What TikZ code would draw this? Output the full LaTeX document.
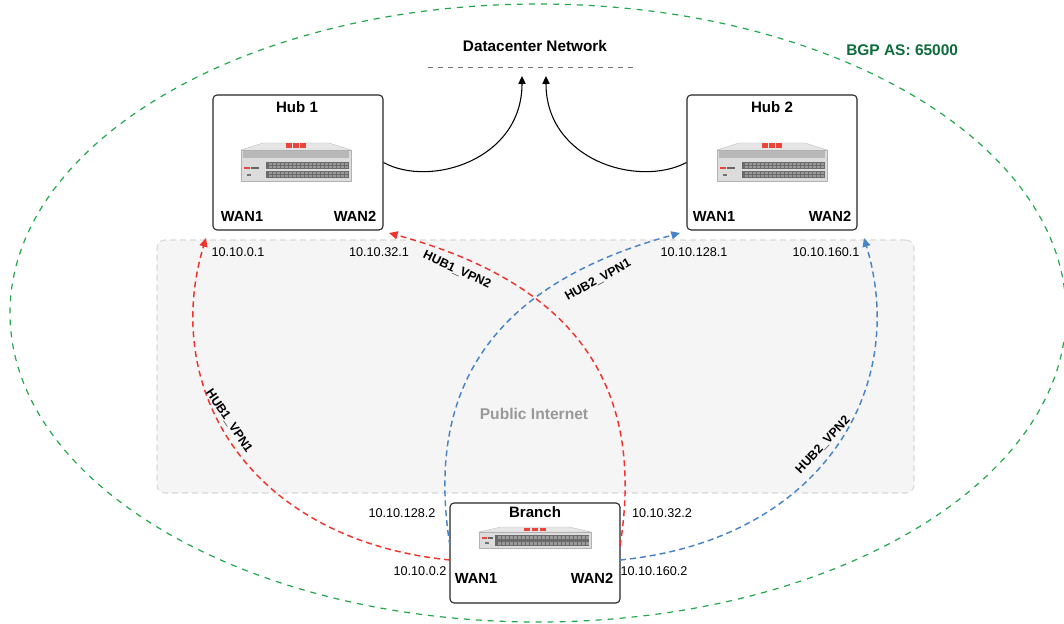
\documentclass[tikz,border=0pt]{standalone}
\usepackage{fontspec}
\setmainfont{Liberation Sans}
\usetikzlibrary{arrows.meta}

\definecolor{vpnred}{HTML}{F0342C}
\definecolor{vpnblue}{HTML}{4A84C8}
\definecolor{asgreen}{HTML}{22A84A}
\definecolor{asdark}{HTML}{0E6B3A}
\definecolor{netfill}{HTML}{F5F5F5}
\definecolor{netedge}{HTML}{D8D8D8}
\definecolor{chassis}{HTML}{DCDCDC}
\definecolor{lidgray}{HTML}{E6E6E6}
\definecolor{meshgray}{HTML}{B8B8B8}
\definecolor{portdark}{HTML}{6A6A6A}
\definecolor{portlight}{HTML}{9A9A9A}
\definecolor{logored}{HTML}{E8453C}

\tikzset{
  devbox/.style={draw=black!85, line width=0.8pt, rounded corners=3pt, fill=white,
                 minimum width=127.5pt, inner sep=0pt},
  title/.style={font=\bfseries\fontsize{11.3}{13}\selectfont, inner sep=0pt},
  port/.style={font=\bfseries\fontsize{11}{13}\selectfont, inner sep=0pt},
  ipaddr/.style={font=\fontsize{9.5}{11}\selectfont, inner sep=0pt},
  tunnel/.style={font=\bfseries\fontsize{9.3}{11}\selectfont, inner sep=0pt},
  uplink/.style={draw=black, line width=0.8pt, -{Triangle[length=6pt,width=5.5pt]}},
  vpn/.style={line width=1.1pt, dash pattern=on 4.5pt off 3pt,
              -{Triangle[length=6.5pt,width=6pt]}},
  redvpn/.style={vpn, draw=vpnred, color=vpnred},
  bluevpn/.style={vpn, draw=vpnblue, color=vpnblue},
  % 2U firewall appliance, drawn around its centre
  bigunit/.pic={
    \fill[lidgray, draw=black!25, line width=0.3pt]
      (-55,-12) -- (-33,-19) -- (33,-19) -- (55,-12) -- cycle;
    \fill[chassis, draw=black!30, line width=0.3pt] (-55,-12) rectangle (55,19);
    \fill[meshgray] (-53,-11) rectangle (53,-4);
    \foreach \r in {0,9}{
      \fill[portdark] (-30,\r) rectangle (53,\r+7);
      \foreach \c in {-27,-23,...,51}{
        \fill[portlight] (\c,\r+1) rectangle (\c+2.6,\r+3);
        \fill[portlight] (\c,\r+4) rectangle (\c+2.6,\r+6);
      }
    }
    \fill[logored] (-10,-18.5) rectangle (-4,-14);
    \fill[logored] (-3,-18.5) rectangle (3,-14);
    \fill[logored] (4,-18.5) rectangle (10,-14);
    \fill[logored] (-52,5) rectangle (-46,7);
    \fill[black!60] (-45,5) rectangle (-37,7);
    \fill[black!55] (-49,12) rectangle (-45,14);
  },
  % 1U firewall appliance, drawn around its centre
  smallunit/.pic={
    \fill[lidgray, draw=black!25, line width=0.3pt]
      (-56,-6) -- (-34,-11) -- (34,-11) -- (56,-6) -- cycle;
    \fill[chassis, draw=black!30, line width=0.3pt] (-56,-6) rectangle (56,10);
    \fill[portdark] (-40,-3) rectangle (54,8);
    \foreach \c in {-37,-33,...,52}{
      \fill[portlight] (\c,-2) rectangle (\c+2.6,0.5);
      \fill[portlight] (\c,4) rectangle (\c+2.6,6.5);
    }
    \fill[logored] (-11,-10.5) rectangle (-5,-7);
    \fill[logored] (-3,-10.5) rectangle (3,-7);
    \fill[logored] (5,-10.5) rectangle (11,-7);
    \fill[logored] (-53,-1) rectangle (-48,1);
    \fill[black!60] (-47,-1) rectangle (-42,1);
    \fill[black!55] (-50,4) rectangle (-46,6);
  }
}

\begin{document}
\begin{tikzpicture}[x=0.75pt, y=-0.75pt]
\useasboundingbox (0,0) rectangle (1064,624);
\clip (0,0) rectangle (1064,624);

% public internet area
\node[draw=netedge, fill=netfill, line width=0.8pt, dash pattern=on 4.5pt off 3pt,
      rounded corners=6pt, minimum width=567.75pt, minimum height=189.75pt, inner sep=0pt]
      (inet) at (535.5,366.5) {};
\node[font=\bfseries\fontsize{11.7}{14}\selectfont, text=black!40, inner sep=0pt]
      (inetlabel) at (534,414) {Public Internet};

% BGP autonomous system boundary
\draw[asgreen, line width=0.9pt, dash pattern=on 4.5pt off 4.5pt]
      (538,313) ellipse [x radius=396pt, y radius=231.75pt];
\node[font=\bfseries\fontsize{11.6}{14}\selectfont, text=asdark, anchor=west, inner sep=0pt]
      (bgp) at (846,50) {BGP AS: 65000};

% datacenter network
\node[font=\bfseries\fontsize{11.5}{14}\selectfont, inner sep=0pt] (dc) at (535,46) {Datacenter Network};
\draw[black!55, line width=0.7pt, dash pattern=on 4pt off 3.5pt] (428,67) -- (636,67);
\coordinate (dc1) at (522,76);
\coordinate (dc2) at (546,76);

% hubs and branch
\node[devbox, minimum height=101.25pt] (hub1) at (298,162.5) {};
\node[devbox, minimum height=101.25pt] (hub2) at (772,162.5) {};
\node[devbox, minimum height=75pt] (branch) at (535,553) {};

\node[title] (hub1t) at (297,107) {Hub 1};
\node[title] (hub2t) at (772,107) {Hub 2};
\node[title] (brt) at (535,512) {Branch};

\pic at (296,162) {bigunit};
\pic at (772,162) {bigunit};
\pic at (535,538) {smallunit};

\node[port] (h1wan1) at (242,216) {WAN1};
\node[port] (h1wan2) at (355,216) {WAN2};
\node[port] (h2wan1) at (714,216) {WAN1};
\node[port] (h2wan2) at (830,216) {WAN2};
\node[port] (bwan1) at (476,578) {WAN1};
\node[port] (bwan2) at (592,578) {WAN2};

% uplinks into the datacenter
\draw[uplink] (hub1.east) .. controls (430,188) and (522,160) .. (dc1);
\draw[uplink] (hub2.west) .. controls (638,188) and (546,160) .. (dc2);

% tunnel end points
\coordinate (h1a) at (206,238);
\coordinate (h1b) at (389,233);
\coordinate (h2a) at (680,233);
\coordinate (h2b) at (864,238);
\coordinate (b1lo) at (450,560);
\coordinate (b1hi) at (450,546);
\coordinate (b2hi) at (620,546);
\coordinate (b2lo) at (620,560);

% overlay tunnels
\draw[redvpn]  (b1lo) .. controls (250,540) and (160,390) .. (h1a);
\draw[redvpn]  (b2hi) .. controls (645,390) and (580,285) .. (h1b);
\draw[bluevpn] (b1hi) .. controls (425,390) and (490,285) .. (h2a);
\draw[bluevpn] (b2lo) .. controls (820,540) and (910,390) .. (h2b);

\node[tunnel, rotate=-56] (t11) at (229,421) {HUB1\_VPN1};
\node[tunnel, rotate=-25] (t12) at (457,270) {HUB1\_VPN2};
\node[tunnel, rotate=29]  (t21) at (598,280) {HUB2\_VPN1};
\node[tunnel, rotate=47]  (t22) at (823,445) {HUB2\_VPN2};

% addresses
\node[ipaddr] (ip1) at (238,252) {10.10.0.1};
\node[ipaddr] (ip2) at (379,252) {10.10.32.1};
\node[ipaddr] (ip3) at (694,252) {10.10.128.1};
\node[ipaddr] (ip4) at (826,252) {10.10.160.1};
\node[ipaddr] (ip5) at (402,513) {10.10.128.2};
\node[ipaddr] (ip6) at (662,513) {10.10.32.2};
\node[ipaddr] (ip7) at (420,571) {10.10.0.2};
\node[ipaddr] (ip8) at (654,571) {10.10.160.2};
\end{tikzpicture}
\end{document}
